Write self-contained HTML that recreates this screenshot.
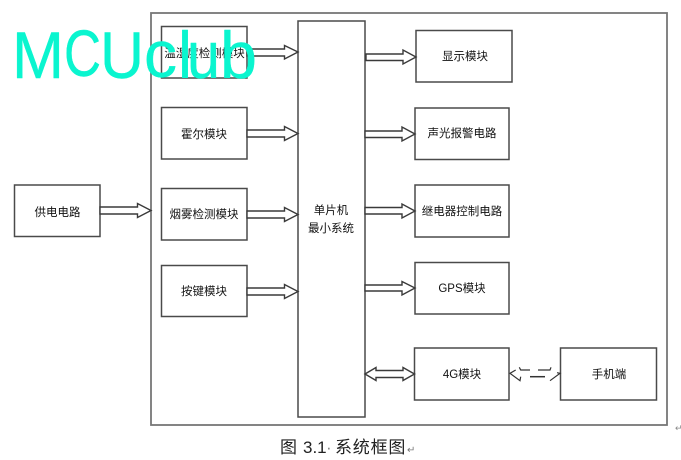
<!DOCTYPE html>
<html>
<head>
<meta charset="utf-8">
<style>
html,body{margin:0;padding:0;background:#fff;width:681px;height:460px;overflow:hidden}
svg{display:block}
text{font-family:"Liberation Sans","WenQuanYi Zen Hei","Noto Sans CJK SC",sans-serif}
.b{fill:#fff;stroke:#4a4a4a;stroke-width:1.5}
.a{fill:#fff;stroke:#3a3a3a;stroke-width:1.4;stroke-linejoin:miter}
.t{font-size:11.5px;fill:#111;text-anchor:middle}
.w{font-size:66px;fill:#0af5cf;stroke:#0af5cf;stroke-width:.4;stroke-linejoin:round}
</style>
</head>
<body>
<svg width="681" height="460" viewBox="0 0 681 460" xmlns="http://www.w3.org/2000/svg">
<rect x="151" y="13" width="516" height="412" fill="#fff" stroke="#777" stroke-width="1.8"/>

<rect class="b" x="161.500" y="26.500" width="85.500" height="51.500"/>
<rect class="b" x="161.500" y="107.500" width="85.500" height="51.500"/>
<rect class="b" x="161.500" y="188.500" width="85.500" height="51.500"/>
<rect class="b" x="161.500" y="265.500" width="85.500" height="51"/>
<rect class="b" x="298" y="21" width="67" height="396"/>
<rect class="b" x="416" y="30.500" width="96" height="51.500"/>
<rect class="b" x="415" y="108" width="94" height="51.500"/>
<rect class="b" x="415" y="185" width="94" height="52"/>
<rect class="b" x="415" y="262.500" width="94" height="51.500"/>
<rect class="b" x="414.500" y="348" width="94.500" height="52"/>
<rect class="b" x="560.500" y="348" width="96" height="52"/>
<rect class="b" x="14.500" y="185" width="85.500" height="51.500"/>

<path class="a" d="M247 49H284.500V45.500L298 52L284.500 59V56H247Z"/>
<path class="a" d="M247 130H284.500V126.500L298 133.500L284.500 140.500V137H247Z"/>
<path class="a" d="M247 211H284.500V207.500L298 214.500L284.500 221.500V218H247Z"/>
<path class="a" d="M247 288H284.500V284.500L298 291.500L284.500 298.500V295H247Z"/>
<path class="a" d="M100 207H137.500V203.500L151 210.500L137.500 217.500V214H100Z"/>
<path class="a" d="M366 54H403V50L416 57L403 64V60.500H366Z"/>
<path class="a" d="M365 131H402V127L415 134L402 141V137.500H365Z"/>
<path class="a" d="M365 207.500H402V204L415 211L402 218V214H365Z"/>
<path class="a" d="M365 285H402V281.500L415 288L402 295V291H365Z"/>
<path class="a" d="M365 374L376 367.500V370.500H403V367.500L414.500 374L403 380.500V377.500H376V380.500Z"/>

<g fill="none" stroke="#333" stroke-width="1.2">
<path d="M515.700 370L510 373.300L520 380.700L520.700 376.700"/>
<path d="M519.300 367.300L520.700 370H530"/>
<path d="M530 376.700H545" stroke-width="1.5"/>
<path d="M538 370H550L551 367.300"/>
<path d="M550 380.700L560 373.300L557 372.700"/>
</g>

<text class="t" x="204.500" y="57">温湿度检测模块</text>
<text class="t" x="204" y="138">霍尔模块</text>
<text class="t" x="204" y="218">烟雾检测模块</text>
<text class="t" x="204" y="295">按键模块</text>
<text class="t" x="331" y="214">单片机</text>
<text class="t" x="331" y="232">最小系统</text>
<text class="t" x="465" y="60">显示模块</text>
<text class="t" x="462" y="137">声光报警电路</text>
<text class="t" x="462" y="215">继电器控制电路</text>
<text class="t" x="462" y="292">GPS模块</text>
<text class="t" x="462" y="378">4G模块</text>
<text class="t" x="609" y="378">手机端</text>
<text class="t" x="57.500" y="216">供电电路</text>

<text x="280" y="453" font-size="17" fill="#222">图</text>
<text x="303" y="453" font-size="17" fill="#222">3.1</text>
<text x="326" y="453" font-size="17" fill="#888">·</text>
<text x="335" y="453" font-size="17" fill="#222" letter-spacing="0.8">系统框图</text>
<text x="407" y="453" font-size="10" fill="#777">↵</text>
<text x="675" y="431" font-size="9" fill="#888">↵</text>

<text class="w" x="12" y="78" textLength="52" lengthAdjust="spacingAndGlyphs">M</text>
<text class="w" x="64" y="76" textLength="37" lengthAdjust="spacingAndGlyphs">C</text>
<text class="w" x="100" y="78" textLength="44" lengthAdjust="spacingAndGlyphs">U</text>
<text class="w" x="144" y="77" textLength="33" lengthAdjust="spacingAndGlyphs">c</text>
<text class="w" x="178" y="78" textLength="14" lengthAdjust="spacingAndGlyphs">l</text>
<text class="w" x="187" y="78" textLength="33" lengthAdjust="spacingAndGlyphs">u</text>
<text class="w" x="220" y="78" textLength="37" lengthAdjust="spacingAndGlyphs">b</text>
</svg>
</body>
</html>
